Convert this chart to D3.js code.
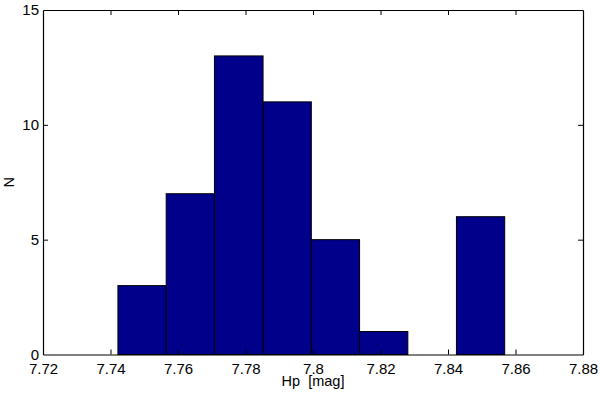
<!DOCTYPE html>
<html>
<head>
<meta charset="utf-8">
<script src="https://cdn.jsdelivr.net/npm/d3@7"></script>
<style>
  html, body { margin: 0; padding: 0; background: #fff; }
  svg { display: block; }
  text { font-family: "Liberation Sans", Arial, Helvetica, sans-serif; fill: #000; }
</style>
</head>
<body>
<svg id="chart" width="600" height="393"></svg>
<script>
// Data
const binEdges = [7.7422, 7.7565, 7.7708, 7.7852, 7.7995, 7.8138, 7.8281, 7.8425, 7.8568];
const counts = [3, 7, 13, 11, 5, 1, 0, 6];
const xTicks = [7.72, 7.74, 7.76, 7.78, 7.8, 7.82, 7.84, 7.86, 7.88];
const yTicks = [0, 5, 10, 15];
const xLabel = "Hp  [mag]";
const yLabel = "N";

const W = 600, H = 393;
const m = { left: 43, right: 17, top: 10, bottom: 38.5 };
const svg = d3.select("#chart");

const x = d3.scaleLinear().domain([7.72, 7.88]).range([m.left, W - m.right]);
const y = d3.scaleLinear().domain([0, 15]).range([H - m.bottom, m.top]);

const bins = counts.map((c, i) => ({ x0: binEdges[i], x1: binEdges[i + 1], n: c }));

// Bars
svg.append("g").selectAll("rect")
  .data(bins.filter(d => d.n > 0))
  .join("rect")
  .attr("x", d => x(d.x0))
  .attr("y", d => y(d.n))
  .attr("width", d => x(d.x1) - x(d.x0))
  .attr("height", d => y(0) - y(d.n))
  .attr("fill", "#00008B")
  .attr("stroke", "#000")
  .attr("stroke-width", 1);

const fmtX = d => d3.format("")(d);
const fs = "15px";

// Bottom axis
const gB = svg.append("g").attr("transform", `translate(0,${y(0)})`)
  .call(d3.axisBottom(x).tickValues(xTicks).tickFormat(fmtX).tickSizeInner(-5).tickSizeOuter(0).tickPadding(9));
// Top axis
const gT = svg.append("g").attr("transform", `translate(0,${y(15)})`)
  .call(d3.axisTop(x).tickValues(xTicks).tickFormat("").tickSizeInner(-5).tickSizeOuter(0));
// Left axis
const gL = svg.append("g").attr("transform", `translate(${x(7.72)},0)`)
  .call(d3.axisLeft(y).tickValues(yTicks).tickFormat(d3.format("d")).tickSizeInner(-5).tickSizeOuter(0).tickPadding(4));
// Right axis
const gR = svg.append("g").attr("transform", `translate(${x(7.88)},0)`)
  .call(d3.axisRight(y).tickValues(yTicks).tickFormat("").tickSizeInner(-5).tickSizeOuter(0));

[gB, gT, gL, gR].forEach(g => {
  g.select(".domain").attr("stroke", "#000").attr("stroke-width", 1.2);
  g.selectAll(".tick line").attr("stroke", "#000").attr("stroke-width", 1);
  g.selectAll(".tick text").style("font-size", fs).style("font-family", '"Liberation Sans", Arial, sans-serif').attr("fill", "#000");
});
// Hide ticks at the ends (they coincide with box edges)
gB.selectAll(".tick").filter(d => d === 7.72 || d === 7.88).select("line").remove();
gT.selectAll(".tick").filter(d => d === 7.72 || d === 7.88).select("line").remove();
gL.selectAll(".tick").filter(d => d === 0 || d === 15).select("line").remove();
gR.selectAll(".tick").filter(d => d === 0 || d === 15).select("line").remove();

// Axis labels
svg.append("text")
  .attr("x", 313)
  .attr("y", 386)
  .attr("text-anchor", "middle")
  .style("font-size", "14.5px")
  .style("white-space", "pre")
  .text(xLabel);

svg.append("text")
  .attr("transform", `translate(14,${(y(0) + y(15)) / 2}) rotate(-90)`)
  .attr("text-anchor", "middle")
  .style("font-size", "14.5px")
  .text(yLabel);
</script>
</body>
</html>
